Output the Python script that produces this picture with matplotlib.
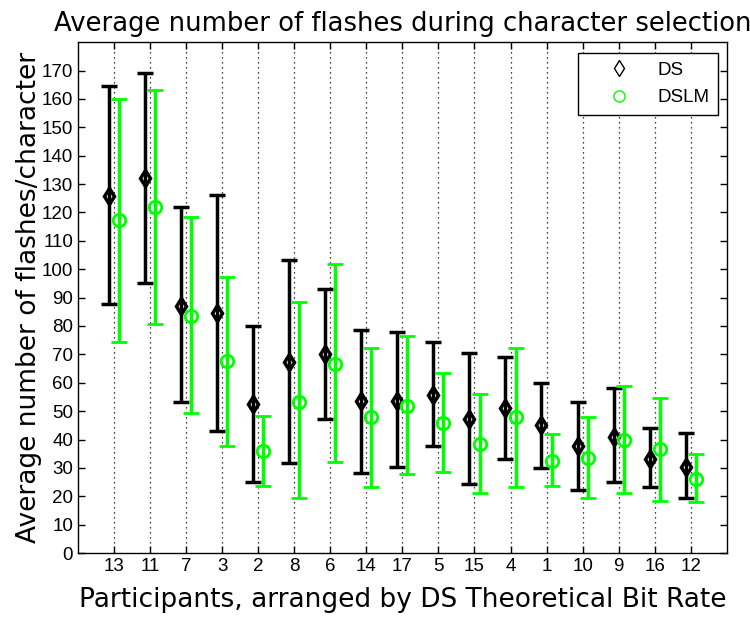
import matplotlib
matplotlib.use("Agg")
import matplotlib.pyplot as plt
import numpy as np

plt.rcParams['font.family'] = ['Liberation Sans', 'DejaVu Sans']

participants = ['13', '11', '7', '3', '2', '8', '6', '14', '17', '5', '15', '4', '1', '10', '9', '16', '12']

ds_mean = [125.7, 132.0, 87.1, 84.4, 52.4, 67.2, 70.0, 53.5, 53.5, 55.7, 47.2, 51.0, 45.1, 37.8, 41.0, 33.0, 30.2]
ds_high = [164.5, 169.2, 121.8, 126.3, 80.1, 103.4, 93.2, 78.5, 78.0, 74.2, 70.6, 69.0, 60.0, 53.3, 58.0, 43.9, 42.2]
ds_low = [87.9, 95.0, 53.1, 43.1, 25.1, 31.6, 47.4, 28.3, 30.2, 37.8, 24.3, 33.1, 30.0, 22.2, 24.9, 23.1, 19.5]

dslm_mean = [117.2, 122.0, 83.6, 67.7, 35.9, 53.3, 66.7, 47.8, 51.9, 45.7, 38.3, 47.8, 32.4, 33.4, 39.8, 36.5, 26.0]
dslm_high = [160.0, 163.3, 118.5, 97.3, 48.4, 88.3, 101.7, 72.1, 76.4, 63.3, 56.2, 72.1, 41.8, 48.0, 58.8, 54.8, 34.9]
dslm_low = [74.2, 80.7, 49.4, 37.8, 23.6, 19.3, 32.1, 23.1, 27.8, 28.4, 21.0, 23.1, 23.7, 19.5, 21.0, 18.4, 18.1]

x = np.arange(1, len(participants) + 1)
green = '#00ff00'
label_font = ['DejaVu Sans']

fig = plt.figure(figsize=(7.5, 6.2), dpi=100)
ax = fig.add_axes([0.104, 0.108, 0.865, 0.824])

for xv in x:
    ax.axvline(xv, color='black', linestyle=(0, (1, 3)), linewidth=0.9, zorder=0)

ds_m = np.array(ds_mean)
ds_err = [ds_m - np.array(ds_low), np.array(ds_high) - ds_m]
ax.errorbar(x - 0.14, ds_m, yerr=ds_err, fmt='d', color='black', mfc='none', mec='black',
            ms=8, mew=2.5, elinewidth=2.5, capsize=6, capthick=2.5, label='DS')

dl_m = np.array(dslm_mean)
dl_err = [dl_m - np.array(dslm_low), np.array(dslm_high) - dl_m]
ax.errorbar(x + 0.14, dl_m, yerr=dl_err, fmt='o', color=green, mfc='none', mec=green,
            ms=9, mew=2, elinewidth=2.5, capsize=6, capthick=2.5, label='DSLM')

ax.set_xlim(0, 18)
ax.set_ylim(0, 180)
ax.set_xticks(x)
ax.set_xticklabels(participants)
ax.set_yticks(np.arange(0, 171, 10))
ax.tick_params(direction='in', top=True, right=True, length=5, labelsize=13.5, width=1)
for s in ax.spines.values():
    s.set_linewidth(1)

ax.set_title('Average number of flashes during character selection', fontsize=18.6, pad=8,
             family=label_font)
ax.set_xlabel('Participants, arranged by DS Theoretical Bit Rate', fontsize=19,
              family=label_font, labelpad=9)
ax.set_ylabel('Average number of flashes/character', fontsize=19, family=label_font,
              labelpad=0)

h = [plt.Line2D([], [], marker='d', color='black', mfc='none', ls='none', ms=8, mew=1),
     plt.Line2D([], [], marker='o', color=green, mfc='none', ls='none', ms=8, mew=1)]
leg = ax.legend(h, ['DS', 'DSLM'], loc='upper right', fontsize=13.5, fancybox=False,
                edgecolor='black', framealpha=1, borderpad=0.45, handlelength=3.5,
                handletextpad=0.3, labelspacing=0.55, borderaxespad=0,
                bbox_to_anchor=(0.986, 0.978))
leg.get_frame().set_linewidth(1)

fig.savefig('out.png', dpi=100)
